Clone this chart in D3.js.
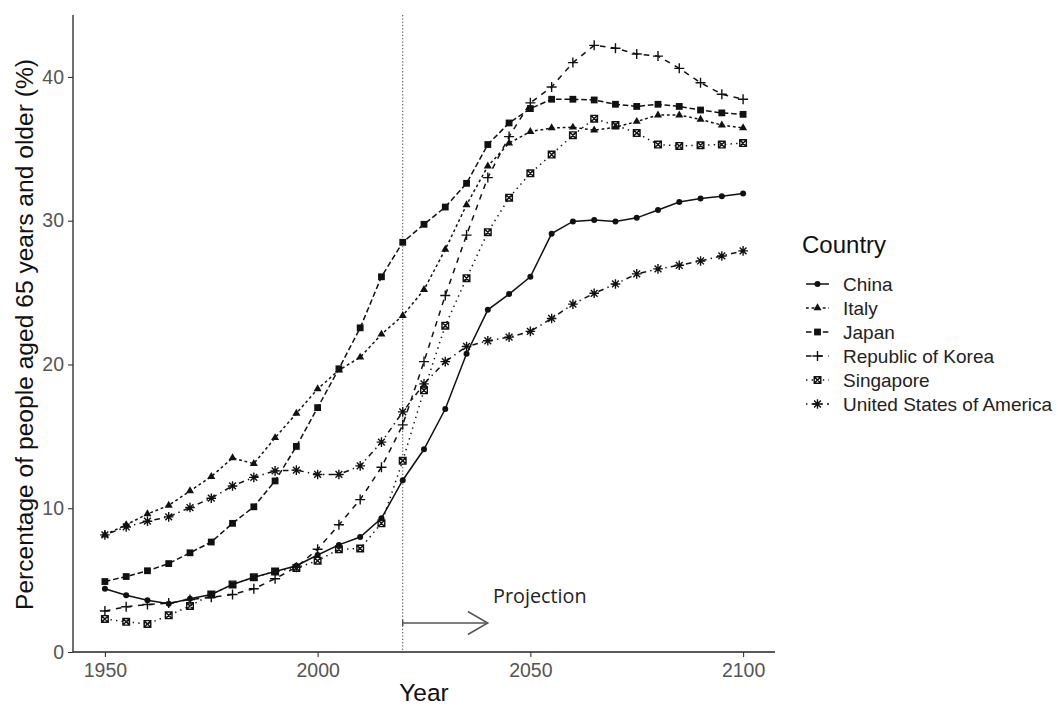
<!DOCTYPE html>
<html>
<head>
<meta charset="utf-8">
<script src="https://cdn.jsdelivr.net/npm/d3@7"></script>
<style>
  html, body { margin: 0; padding: 0; background: #fff; }
  svg { display: block; font-family: "Liberation Sans", Arial, sans-serif; }
</style>
</head>
<body>
<svg id="chart" width="1058" height="706"></svg>
<script>
// Share of population aged 65+ (%), five-year steps, estimates to 2020 then projections.
const years = [1950, 1955, 1960, 1965, 1970, 1975, 1980, 1985, 1990, 1995, 2000,
               2005, 2010, 2015, 2020, 2025, 2030, 2035, 2040, 2045, 2050,
               2055, 2060, 2065, 2070, 2075, 2080, 2085, 2090, 2095, 2100];

const countries = ["China", "Italy", "Japan", "Republic of Korea", "Singapore", "United States of America"];

const china = [4.4, 3.95, 3.6, 3.35, 3.7, 4.0, 4.7, 5.2, 5.6, 6.0, 6.75, 7.45, 8.0, 9.3, 11.95,
               14.1, 16.9, 20.75, 23.8, 24.9, 26.1, 29.1, 29.95, 30.05, 29.95, 30.2, 30.75, 31.3, 31.55, 31.7, 31.9];
const italy = [8.15, 8.85, 9.6, 10.2, 11.2, 12.2, 13.5, 13.1, 14.9, 16.6, 18.3, 19.6, 20.5, 22.1, 23.4,
               25.2, 28.0, 31.1, 33.8, 35.4, 36.2, 36.45, 36.5, 36.3, 36.5, 36.9, 37.35, 37.35, 37.05, 36.65, 36.45];
const japan = [4.9, 5.25, 5.65, 6.15, 6.9, 7.65, 8.95, 10.1, 11.9, 14.3, 17.0, 19.7, 22.55, 26.1, 28.5,
               29.75, 30.95, 32.6, 35.3, 36.8, 37.8, 38.45, 38.45, 38.4, 38.1, 37.95, 38.1, 37.95, 37.7, 37.5, 37.4];
const korea = [2.85, 3.15, 3.3, 3.4, 3.65, 3.8, 4.0, 4.4, 5.1, 5.9, 7.15, 8.85, 10.6, 12.85, 15.8,
               20.2, 24.8, 29.0, 33.0, 35.85, 38.2, 39.3, 41.0, 42.2, 42.0, 41.6, 41.45, 40.6, 39.6, 38.8, 38.45];
const singapore = [2.3, 2.1, 1.95, 2.55, 3.2, 4.0, 4.7, 5.2, 5.6, 5.85, 6.35, 7.15, 7.2, 8.95, 13.3,
               18.2, 22.7, 26.0, 29.2, 31.6, 33.3, 34.6, 35.95, 37.1, 36.65, 36.1, 35.3, 35.2, 35.25, 35.3, 35.4];
const usa = [8.15, 8.7, 9.1, 9.4, 10.05, 10.7, 11.55, 12.15, 12.6, 12.65, 12.35, 12.35, 12.95, 14.6, 16.7,
               18.65, 20.2, 21.25, 21.65, 21.9, 22.3, 23.2, 24.2, 24.95, 25.6, 26.3, 26.65, 26.9, 27.2, 27.55, 27.9];

const seriesValues = [china, italy, japan, korea, singapore, usa];
const xTicks = [1950, 2000, 2050, 2100];
const yTicks = [0, 10, 20, 30, 40];
const projectionStart = 2020;
const projectionEnd = 2040;

// Line dash patterns and point shapes per country
const dashes = [null, "2.8,2.8", "5.6,2.8", "5.6,5.6", "1.4,4.2", "1.4,4.2,5.6,4.2"];
const shapes = ["circle", "triangle", "square", "plus", "squarex", "asterisk"];

const series = countries.map((name, i) => ({
  name, dash: dashes[i], shape: shapes[i],
  points: years.map((y, j) => ({ year: y, value: seriesValues[i][j] }))
}));

const svg = d3.select("#chart");
const panel = { left: 73, right: 775, top: 15, bottom: 652 };

const xPad = (d3.max(years) - d3.min(years)) * 0.05;
const x = d3.scaleLinear()
  .domain([d3.min(years) - xPad, d3.max(years) + xPad])
  .range([panel.left, panel.right]);
const yMax = d3.max(seriesValues.flat()) * 1.05;
const y = d3.scaleLinear().domain([0, yMax]).range([panel.bottom, panel.top]);

// Point glyph paths centred at 0,0
function glyph(shape) {
  switch (shape) {
    case "plus": { const a = 5; return `M${-a},0H${a}M0,${-a}V${a}`; }
    case "asterisk": {
      const a = 4.8, b = 3.4;
      return `M${-a},0H${a}M0,${-a}V${a}M${-b},${-b}L${b},${b}M${-b},${b}L${b},${-b}`;
    }
    case "squarex": {
      const a = 3.3;
      return `M${-a},${-a}H${a}V${a}H${-a}ZM${-a},${-a}L${a},${a}M${-a},${a}L${a},${-a}`;
    }
    default: return null;
  }
}

function drawMarker(g, shape, cx, cy) {
  if (shape === "circle") {
    g.append("circle").attr("cx", cx).attr("cy", cy).attr("r", 3).attr("fill", "#111");
  } else if (shape === "triangle") {
    g.append("path").attr("transform", `translate(${cx},${cy})`)
      .attr("d", d3.symbol(d3.symbolTriangle, 28)()).attr("fill", "#111");
  } else if (shape === "square") {
    g.append("rect").attr("x", cx - 3.4).attr("y", cy - 3.4)
      .attr("width", 6.8).attr("height", 6.8).attr("fill", "#111");
  } else {
    g.append("path").attr("transform", `translate(${cx},${cy})`)
      .attr("d", glyph(shape)).attr("fill", "none")
      .attr("stroke", "#111").attr("stroke-width", shape === "squarex" ? 1.4 : 1.4);
  }
}

// Axes
const axisColor = "#222";
const tickText = "#555";

const xAxis = svg.append("g").attr("transform", `translate(0,${panel.bottom})`)
  .call(d3.axisBottom(x).tickValues(xTicks).tickFormat(d3.format("d")).tickSize(5).tickPadding(6).tickSizeOuter(0));
const yAxis = svg.append("g").attr("transform", `translate(${panel.left},0)`)
  .call(d3.axisLeft(y).tickValues(yTicks).tickSize(5).tickPadding(4).tickSizeOuter(0));

[xAxis, yAxis].forEach(ax => {
  ax.select(".domain").attr("stroke", axisColor).attr("stroke-width", 1.3);
  ax.selectAll(".tick line").attr("stroke", "#333").attr("stroke-width", 1.1);
  ax.selectAll(".tick text").attr("fill", tickText).attr("font-size", 19.5)
    .attr("font-family", "Liberation Sans, Arial, sans-serif");
});
xAxis.select(".domain").attr("d", `M${panel.left},0H${panel.right}`);
yAxis.select(".domain").attr("d", `M0,${panel.top}V${panel.bottom}`);

// Axis titles
svg.append("text")
  .attr("x", (panel.left + panel.right) / 2).attr("y", 701)
  .attr("text-anchor", "middle").attr("font-size", 24.5).attr("fill", "#111")
  .text("Year");
svg.append("text")
  .attr("transform", `translate(33,${(panel.top + panel.bottom) / 2 + 1}) rotate(-90)`)
  .attr("text-anchor", "middle").attr("font-size", 24.6).attr("fill", "#111")
  .text("Percentage of people aged 65 years and older (%)");

// Projection marker
svg.append("line")
  .attr("x1", x(projectionStart)).attr("x2", x(projectionStart))
  .attr("y1", panel.top).attr("y2", panel.bottom)
  .attr("stroke", "#444").attr("stroke-width", 1).attr("stroke-dasharray", "1.3,2");

const line = d3.line().x(d => x(d.year)).y(d => y(d.value));

const plot = svg.append("g");
series.forEach(s => {
  plot.append("path").datum(s.points)
    .attr("d", line).attr("fill", "none")
    .attr("stroke", "#111").attr("stroke-width", 1.5)
    .attr("stroke-dasharray", s.dash);
});
series.forEach(s => {
  const g = plot.append("g");
  s.points.forEach(p => drawMarker(g, s.shape, x(p.year), y(p.value)));
});

// Projection arrow and label
const arrowY = 623;
const ax0 = x(projectionStart), ax1 = x(projectionEnd);
const arrow = svg.append("g").attr("stroke", "#555").attr("stroke-width", 1.5).attr("fill", "none");
arrow.append("line").attr("x1", ax0).attr("x2", ax1).attr("y1", arrowY).attr("y2", arrowY);
arrow.append("line").attr("x1", ax0).attr("x2", ax0).attr("y1", arrowY - 3).attr("y2", arrowY + 3);
arrow.append("path").attr("d", `M${ax1 - 20},${arrowY - 11.5}L${ax1},${arrowY}L${ax1 - 20},${arrowY + 11.5}`);
svg.append("text")
  .attr("x", 493).attr("y", 603)
  .attr("font-family", "Open Sans, Noto Sans, sans-serif").attr("font-size", 19.8)
  .attr("fill", "#222").text("Projection");

// Legend
const legend = svg.append("g").attr("transform", "translate(802,0)");
legend.append("text").attr("x", 0).attr("y", 253)
  .attr("font-size", 24).attr("fill", "#111").text("Country");
series.forEach((s, i) => {
  const cy = 284 + i * 24;
  const row = legend.append("g");
  row.append("line").attr("x1", 4).attr("x2", 27).attr("y1", cy).attr("y2", cy)
    .attr("stroke", "#111").attr("stroke-width", 1.5).attr("stroke-dasharray", s.dash);
  drawMarker(row, s.shape, 15.5, cy);
  row.append("text").attr("x", 41).attr("y", cy).attr("dy", "0.36em")
    .attr("font-size", 19).attr("fill", "#222").text(s.name);
});
</script>
</body>
</html>
